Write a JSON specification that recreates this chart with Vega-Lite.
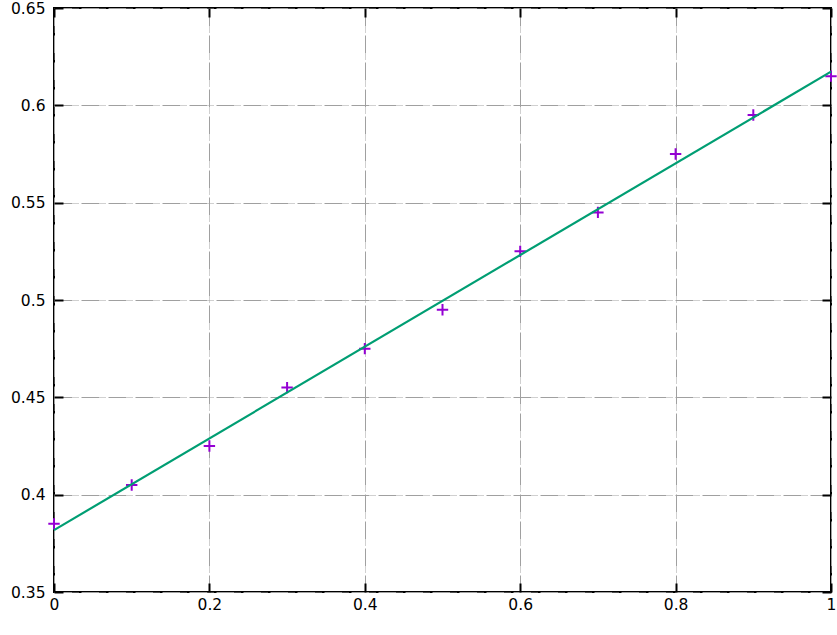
{
  "$schema": "https://vega.github.io/schema/vega-lite/v6.json",
  "width": 777,
  "height": 584,
  "autosize": {"type": "none"},
  "padding": {"left": 54, "top": 8, "right": 6, "bottom": 43},
  "background": "white",
  "config": {
    "view": {"stroke": "black", "strokeWidth": 2},
    "axis": {
      "labelFont": "DejaVu Sans",
      "labelFontSize": 15.5,
      "labelColor": "black",
      "domain": false,
      "tickColor": "black",
      "tickWidth": 2,
      "tickSize": -9,
      "gridColor": "#a0a0a0",
      "gridWidth": 1,
      "gridDash": [18, 1, 1, 1, 1, 1, 1, 3],
      "title": null
    }
  },
  "datasets": {
    "pts": [
      {"x": 0.0, "y": 0.385},
      {"x": 0.1, "y": 0.405},
      {"x": 0.2, "y": 0.425},
      {"x": 0.3, "y": 0.455},
      {"x": 0.4, "y": 0.475},
      {"x": 0.5, "y": 0.495},
      {"x": 0.6, "y": 0.525},
      {"x": 0.7, "y": 0.545},
      {"x": 0.8, "y": 0.575},
      {"x": 0.9, "y": 0.595},
      {"x": 1.0, "y": 0.615}
    ],
    "fit": [
      {"x": 0.0, "y": 0.3818},
      {"x": 1.0, "y": 0.6173}
    ]
  },
  "layer": [
    {
      "data": {"name": "pts"},
      "mark": {"type": "point", "shape": "M-1,0L1,0M0,-1L0,1", "size": 130, "strokeWidth": 2, "color": "#9400D3", "opacity": 1, "filled": false, "clip": false},
      "encoding": {
        "x": {
          "field": "x", "type": "quantitative",
          "scale": {"domain": [0, 1], "nice": false, "zero": false},
          "axis": {"orient": "bottom", "values": [0, 0.2, 0.4, 0.6, 0.8, 1], "labelPadding": 14, "grid": true, "labelFlush": false, "labelExpr": "datum.value === 0 ? '0' : datum.value === 1 ? '1' : format(datum.value, '.1f')"}
        },
        "y": {
          "field": "y", "type": "quantitative",
          "scale": {"domain": [0.35, 0.65], "nice": false, "zero": false},
          "axis": {"orient": "left", "values": [0.35, 0.4, 0.45, 0.5, 0.55, 0.6, 0.65], "labelPadding": 18, "grid": true, "labelFlush": false, "labelExpr": "format(datum.value, '.2~f')"}
        }
      }
    },
    {
      "data": {"name": "fit"},
      "mark": {"type": "line", "color": "#009E73", "strokeWidth": 2.2},
      "encoding": {
        "x": {"field": "x", "type": "quantitative", "axis": {"orient": "top", "values": [0, 0.2, 0.4, 0.6, 0.8, 1], "labels": false, "grid": false}},
        "y": {"field": "y", "type": "quantitative", "axis": {"orient": "right", "values": [0.35, 0.4, 0.45, 0.5, 0.55, 0.6, 0.65], "labels": false, "grid": false}}
      }
    }
  ],
  "resolve": {"axis": {"x": "independent", "y": "independent"}}
}
